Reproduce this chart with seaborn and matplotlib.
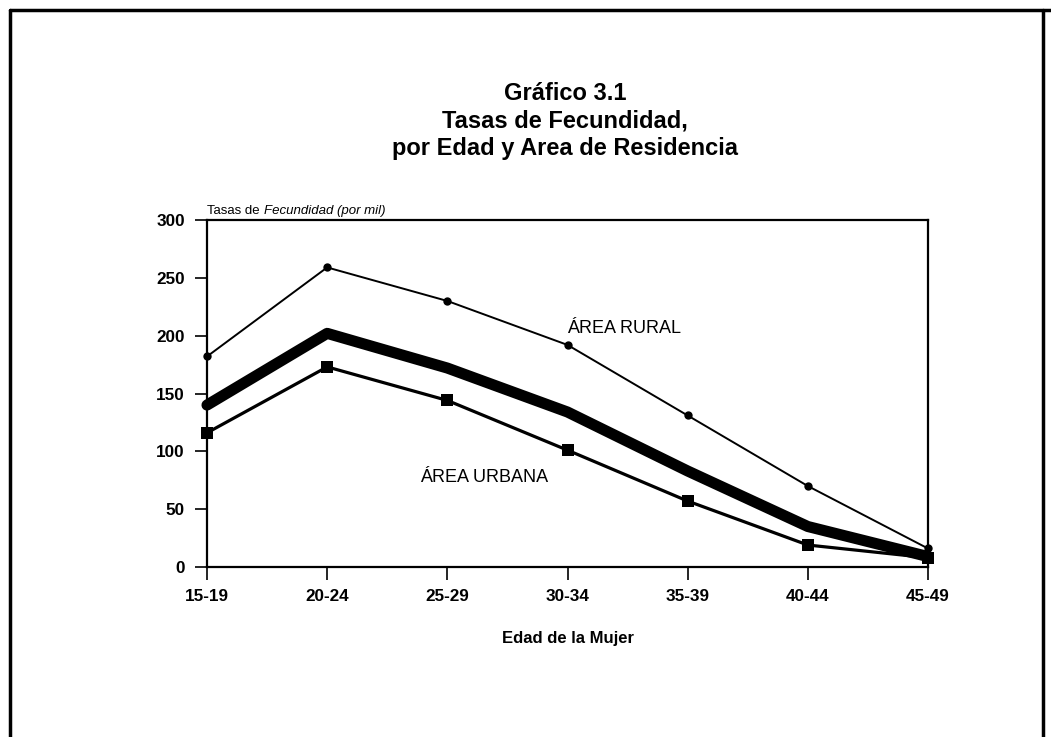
import seaborn as sns
import matplotlib.pyplot as plt
import pandas as pd

# age groups and fertility rates (per thousand)
edades = ['15-19', '20-24', '25-29', '30-34', '35-39', '40-44', '45-49']
rural = [182, 259, 230, 192, 131, 70, 16]
total = [140, 202, 172, 134, 83, 35, 9]
urbana = [116, 173, 144, 101, 57, 19, 8]

df = pd.DataFrame({'Edad': edades, 'Rural': rural, 'Total': total, 'Urbana': urbana})
df['pos'] = range(len(edades))

sns.set_theme(style="white")
plt.rcParams['font.family'] = ['Liberation Sans', 'DejaVu Sans']

fig = plt.figure(figsize=(10.51, 7.37), dpi=100)
ax = fig.add_axes([207 / 1051, 1 - 567 / 737, 721 / 1051, 347 / 737])

sns.lineplot(data=df, x='pos', y='Rural', ax=ax, color='black', lw=1.4,
             marker='o', markersize=6, markeredgewidth=0, clip_on=False)
sns.lineplot(data=df, x='pos', y='Total', ax=ax, color='black', lw=8,
             solid_joinstyle='round', solid_capstyle='round', clip_on=False)
sns.lineplot(data=df, x='pos', y='Urbana', ax=ax, color='black', lw=2.3,
             marker='s', markersize=8, markeredgewidth=0, clip_on=False)

ax.set_xlim(0, 6)
ax.set_ylim(0, 300)
ax.set_xticks(range(len(edades)))
ax.set_xticklabels(edades)
ax.set_yticks(range(0, 301, 50))
ax.tick_params(axis='both', direction='out', length=9, width=1.2, color='black',
               labelsize=12.3, pad=7, bottom=True, left=True, labelcolor='black')
for t in ax.get_xticklabels() + ax.get_yticklabels():
    t.set_fontweight('bold')
for s in ax.spines.values():
    s.set_color('black')
    s.set_linewidth(1.6)

ax.set_xlabel('Edad de la Mujer', fontsize=12, fontweight='bold', labelpad=19,
              color='black')
ax.set_ylabel('')
ax.text(0, 1.008, 'Tasas de ', transform=ax.transAxes, fontsize=9.5,
        ha='left', va='bottom', color='black')
ax.text(0.079, 1.008, 'Fecundidad (por mil)', transform=ax.transAxes, fontsize=9.5,
        ha='left', va='bottom', style='italic', color='black')

ax.text(3.0, 206, 'ÁREA RURAL', fontsize=13, ha='left', va='center', color='black')
ax.text(1.77, 77, 'ÁREA URBANA', fontsize=13, ha='left', va='center', color='black')

fig.text(565 / 1051, 1 - 121 / 737,
         'Gráfico 3.1\nTasas de Fecundidad,\npor Edad y Area de Residencia',
         ha='center', va='center', fontsize=17, fontweight='bold', linespacing=1.25,
         color='black')

# page frame of the scanned report
fig.add_artist(plt.Line2D([10 / 1051, 10 / 1051], [0, 1 - 10 / 737], color='black', lw=2.5))
fig.add_artist(plt.Line2D([10 / 1051, 1], [1 - 10 / 737, 1 - 10 / 737], color='black', lw=2.5))
fig.add_artist(plt.Line2D([1043 / 1051, 1043 / 1051], [0, 1 - 10 / 737], color='black', lw=2.5))

fig.savefig('out.png', dpi=100)
